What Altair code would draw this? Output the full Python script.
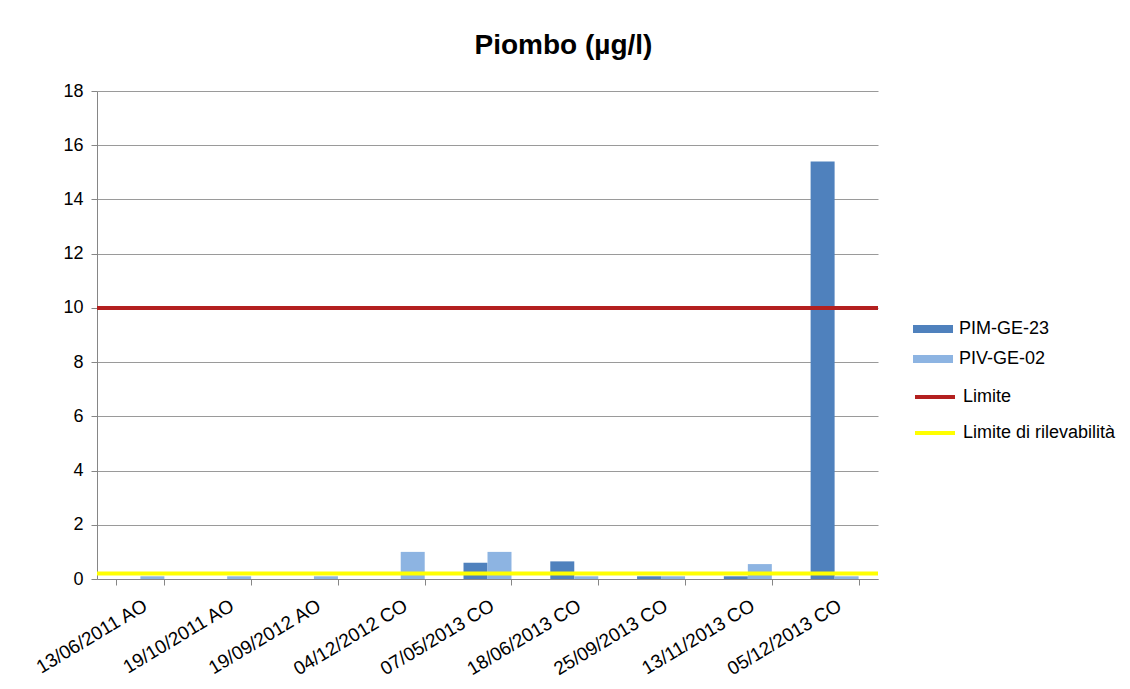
import altair as alt
import pandas as pd

dates = ["13/06/2011 AO", "19/10/2011 AO", "19/09/2012 AO", "04/12/2012 CO",
         "07/05/2013 CO", "18/06/2013 CO", "25/09/2013 CO", "13/11/2013 CO",
         "05/12/2013 CO"]
pim = [None, None, None, None, 0.6, 0.65, 0.1, 0.1, 15.4]
piv = [0.1, 0.1, 0.1, 1.0, 1.0, 0.1, 0.1, 0.55, 0.1]
series = ["PIM-GE-23", "PIV-GE-02"]
limit_names = ["Limite", "Limite di rilevabilità"]
limit_values = [10, 0.2]

rows = []
for d, a, b in zip(dates, pim, piv):
    if a is not None:
        rows.append({"data": d, "serie": series[0], "valore": a})
    if b is not None:
        rows.append({"data": d, "serie": series[1], "valore": b})
bars_df = pd.DataFrame(rows)
lim_df = pd.DataFrame({"serie": limit_names, "valore": limit_values})

FONT = "Liberation Sans"

bars = alt.Chart(bars_df).mark_bar().encode(
    x=alt.X("data:N", sort=dates, title=None,
            scale=alt.Scale(paddingInner=0.447, paddingOuter=0.2235),
            axis=alt.Axis(labelAngle=-31, labelAlign="right", labelBaseline="top",
                          tickBand="extent", labelFontSize=19, labelPadding=11,
                          tickSize=6, labelColor="#000000", domainColor="#868686",
                          tickColor="#868686")),
    xOffset=alt.XOffset("serie:N", sort=series, scale=alt.Scale(paddingInner=0, paddingOuter=0)),
    y=alt.Y("valore:Q", title=None,
            scale=alt.Scale(domain=[0, 18], nice=False),
            axis=alt.Axis(values=list(range(0, 19, 2)), labelFontSize=18, labelColor="#000000",
                          tickSize=6, labelPadding=8, domainColor="#868686", tickColor="#868686",
                          gridColor="#9a9a9a")),
    fill=alt.Fill("serie:N", sort=series,
                  scale=alt.Scale(domain=series, range=["#4F81BD", "#8DB4E2"]),
                  legend=alt.Legend(title=None, orient="none", legendX=816, legendY=218,
                                    symbolType="M-1,-0.2H1V0.2H-1Z", symbolSize=1600,
                                    symbolStrokeWidth=0, labelFontSize=18, labelOffset=6,
                                    rowPadding=1, labelColor="#000000", padding=0,
                                    labelLimit=300)),
)

rules = alt.Chart(lim_df).mark_rule(strokeWidth=4).encode(
    y="valore:Q",
    stroke=alt.Stroke("serie:N", sort=limit_names,
                      scale=alt.Scale(domain=limit_names, range=["#B3201F", "#FFFF00"]),
                      legend=alt.Legend(title=None, orient="none", legendX=816, legendY=284,
                                        symbolType="stroke", symbolSize=1600,
                                        symbolStrokeWidth=4, labelFontSize=18, labelOffset=6,
                                        rowPadding=5, labelColor="#000000", padding=0,
                                        labelLimit=300)),
)

chart = alt.layer(bars, rules).resolve_scale(fill="independent", stroke="independent").properties(
    width=781, height=488,
    title=alt.TitleParams("Piombo (µg/l)", fontSize=28, fontWeight="bold", font=FONT,
                          color="#000000", dx=76, offset=22),
    autosize=alt.AutoSizeParams(type="none"),
    padding={"left": 89, "top": 83, "right": 244, "bottom": 110},
).configure(font=FONT).configure_view(stroke=None)

chart.save("out.html", embed_options={"renderer": "svg", "actions": False})
